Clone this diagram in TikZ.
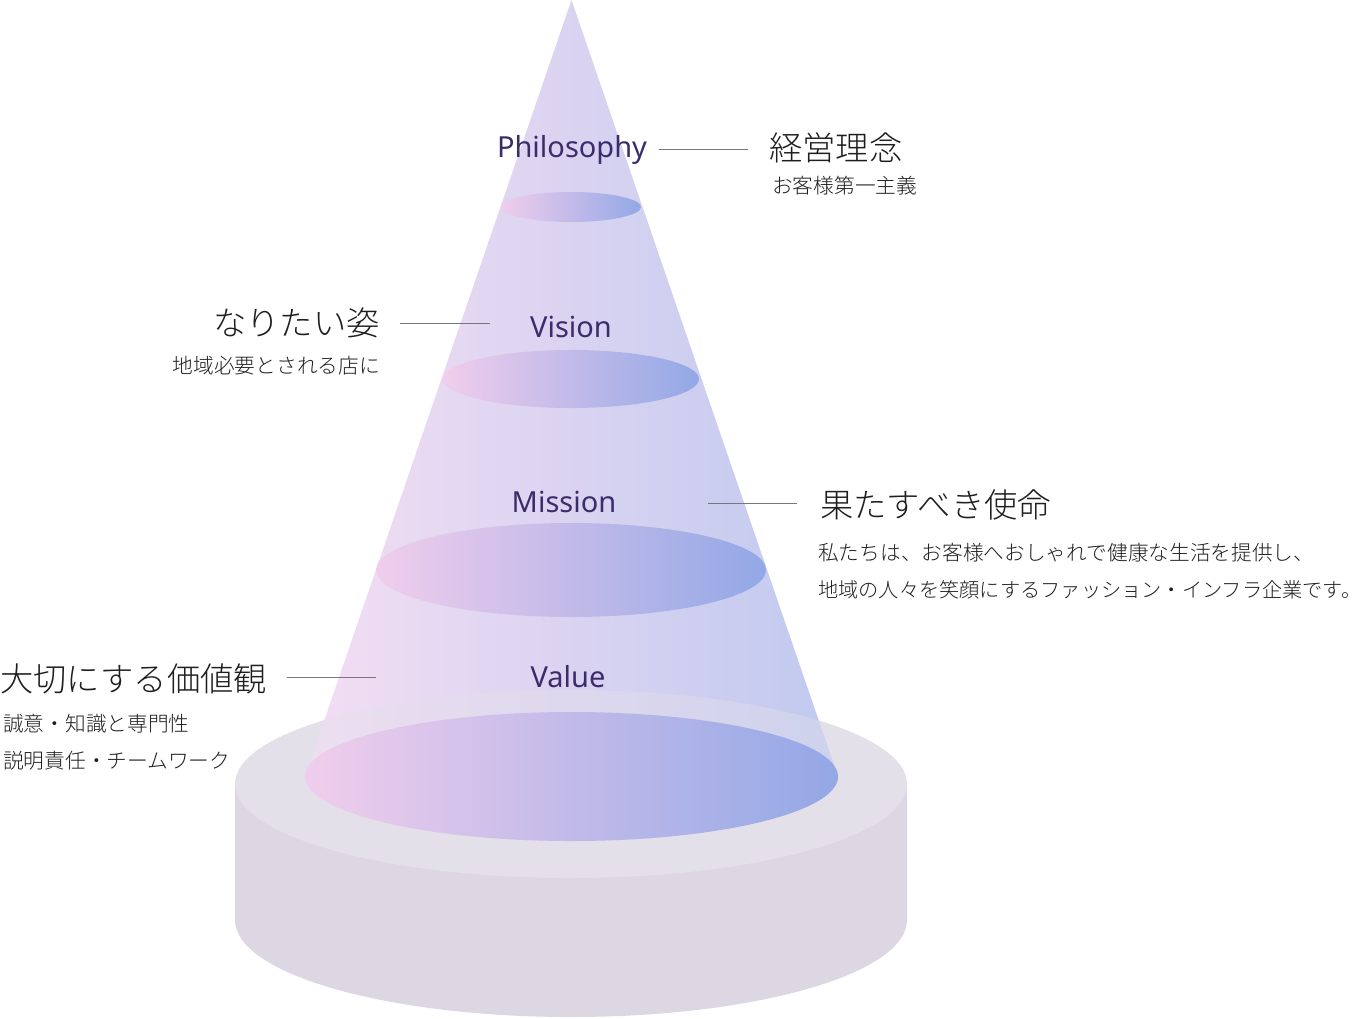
\documentclass[tikz,border=0pt]{standalone}
\usepackage{fontspec}
\setmainfont{Noto Sans}
\newfontfamily\jp{Noto Sans CJK JP Light}
\definecolor{conel}{HTML}{F3DEF3}
\definecolor{conem}{HTML}{E0D9F2}
\definecolor{coner}{HTML}{C0C9EF}
\definecolor{elll}{HTML}{F0CDEC}
\definecolor{ellm}{HTML}{D4C6EC}
\definecolor{ellr}{HTML}{93A8E6}
\definecolor{cyltop}{HTML}{E3E0EA}
\definecolor{cylside}{HTML}{DDD7E3}
\definecolor{labelc}{HTML}{3B2D6B}
\definecolor{jptext}{HTML}{1E1E1E}
\definecolor{linec}{HTML}{777777}
\begin{document}
\begin{tikzpicture}[x=1bp,y=-1bp,
  enlabel/.style={inner sep=0pt,anchor=base,text=labelc,font=\fontsize{29bp}{34bp}\selectfont},
  jpbig/.style={inner sep=0pt,text=jptext,font=\jp\fontsize{33.3bp}{38bp}\selectfont},
  jpsmall/.style={inner sep=0pt,text=jptext,font=\jp\fontsize{20.7bp}{24bp}\selectfont},
  leader/.style={draw=linec,line width=1bp},
  disc/.style={left color=elll,middle color=ellm,right color=ellr}]
\useasboundingbox (0,0) rectangle (1371,1018);
% base cylinder
\fill[cylside] (235,784) -- (235,920) arc[start angle=180,end angle=0,x radius=336,y radius=97] -- (907,784) -- cycle;
\fill[cyltop] (571,784) ellipse[x radius=336,y radius=94];
% cone
\shade[left color=conel,middle color=conem,right color=coner]
  (571.5,0) -- (838,776.5) arc[start angle=0,end angle=180,x radius=266.5,y radius=64.5] -- cycle;
% tint of the cylinder top seen through the cone
\fill[cyltop,fill opacity=0.4] (571,784) ellipse[x radius=336,y radius=94];
% discs
\shade[disc] (571.5,776.5) ellipse[x radius=266.5,y radius=64.5];
\shade[disc] (571,570) ellipse[x radius=195,y radius=47];
\shade[disc] (571,379) ellipse[x radius=128,y radius=29];
\shade[disc] (571,207) ellipse[x radius=70,y radius=15];
% English labels
\node[enlabel] (phil) at (572,157) {Philosophy};
\node[enlabel] (vis) at (571,337) {Vision};
\node[enlabel] (mis) at (564,512) {Mission};
\node[enlabel] (val) at (568,687) {Value};
% Japanese texts
\node[jpbig,anchor=west] (keiei) at (769,148) {経営理念};
\node[jpsmall,anchor=west] (keieis) at (772,186) {お客様第一主義};
\node[jpbig,anchor=east] (nari) at (380,323) {なりたい姿};
\node[jpsmall,anchor=east] (naris) at (380,366) {地域必要とされる店に};
\node[jpbig,anchor=west] (hata) at (820,505) {果たすべき使命};
\node[jpsmall,anchor=west] (hatas1) at (818,553) {私たちは、お客様へおしゃれで健康な生活を提供し、};
\node[jpsmall,anchor=west,font=\jp\fontsize{20.2bp}{24bp}\selectfont] (hatas2) at (818,590) {地域の人々を笑顔にするファッション・インフラ企業です。};
\node[jpbig,anchor=west] (tai) at (0,679) {大切にする価値観};
\node[jpsmall,anchor=west] (tais1) at (3,724) {誠意・知識と専門性};
\node[jpsmall,anchor=west] (tais2) at (3,761) {説明責任・チームワーク};
% leader lines
\coordinate (pl1) at (659,149); \coordinate (pl2) at (748,149);
\coordinate (vl1) at (400,323); \coordinate (vl2) at (490,323);
\coordinate (ml1) at (708,503); \coordinate (ml2) at (797,503);
\coordinate (al1) at (287,677); \coordinate (al2) at (376,677);
\draw[leader] (pl1) -- (pl2);
\draw[leader] (vl1) -- (vl2);
\draw[leader] (ml1) -- (ml2);
\draw[leader] (al1) -- (al2);
\end{tikzpicture}
\end{document}
